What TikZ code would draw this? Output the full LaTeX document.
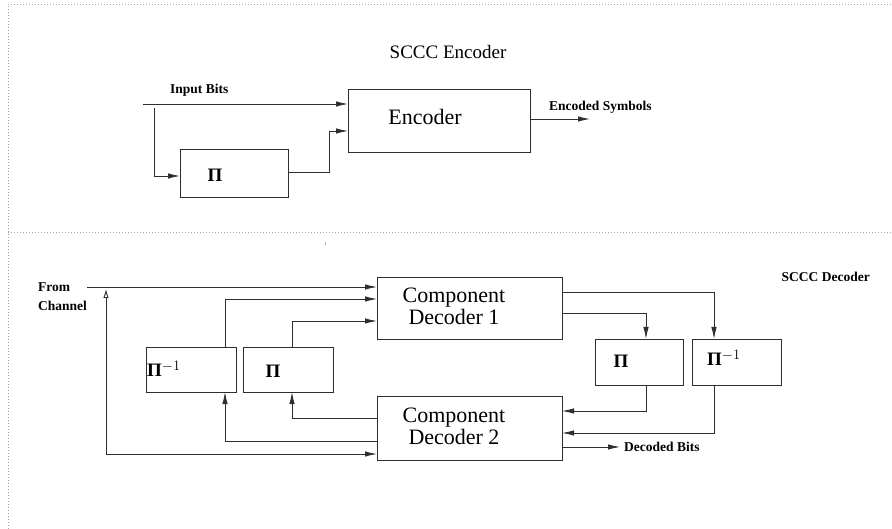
\documentclass[tikz,border=0pt]{standalone}
\usepackage{fontspec}
\setmainfont{Liberation Serif}
\usetikzlibrary{arrows.meta}
\definecolor{ln}{HTML}{2E2E2E}
\tikzset{
  box/.style={draw=ln, line width=0.9pt, rectangle, inner sep=0pt, outer sep=0pt, anchor=north west},
  arr/.style={draw=ln, line width=0.9pt, -{Latex[length=12pt,width=5.5pt]}},
  wire/.style={draw=ln, line width=0.9pt},
  lbl/.style={font=\fontsize{13.5}{15}\selectfont\bfseries, inner sep=0pt},
  big/.style={font=\fontsize{22}{25}\selectfont, inner sep=0pt, align=center},
  title/.style={font=\fontsize{19}{22}\selectfont, inner sep=0pt},
  pisym/.style={font=\fontsize{19}{22}\selectfont\bfseries, inner sep=0pt},
  frame/.style={draw=gray!70, line width=0.6pt, dash pattern=on 0.8pt off 2.2pt}
}
\begin{document}
\begin{tikzpicture}[x=1pt,y=-1pt]
\useasboundingbox (0,0) rectangle (892,529);
% frame
\draw[frame] (8,529) -- (8,4) -- (892,4);
\draw[frame] (8,232) -- (892,232);
\draw[gray!60, line width=0.5pt] (325,242) -- (325,245);

% ---------- Encoder ----------
\node[title] (enctitle) at (448,52) {SCCC Encoder};
\node[box, minimum width=182pt, minimum height=63pt] (enc) at (348,89) {};
\node[big] (enctext) at (425,117) {Encoder};
\node[box, minimum width=108pt, minimum height=48pt] (pe) at (180,149) {};
\node[pisym] (petext) at (215,175) {Π};

\coordinate (inb) at (143,104);
\coordinate (brs) at (154,108);
\node[lbl, anchor=west] (inlbl) at (170,90) {Input Bits};
\draw[arr] (inb) -- ([yshift=-15pt]enc.north west);
\draw[arr] (brs) |- ([yshift=-3pt]pe.west);
\draw[arr] ([yshift=1pt]pe.east) -- (329,172) |- ([yshift=-42pt]enc.north west);
\coordinate (encout) at (590,119);
\draw[arr] (enc.east |- encout) -- (encout);
\node[lbl, anchor=west] (enclbl) at (549,107) {Encoded Symbols};

% ---------- Decoder ----------
\node[lbl, anchor=east] (dectitle) at (870,277) {SCCC Decoder};
\node[lbl, anchor=west] (from) at (38,287) {From};
\node[lbl, anchor=west] (chan) at (38,306) {Channel};

\node[box, minimum width=185pt, minimum height=62pt] (cd1) at (377,277) {};
\node[big] (cd1text) at (454,306) {Component\\[-3pt]Decoder 1};
\node[box, minimum width=185pt, minimum height=64pt] (cd2) at (377,396) {};
\node[big] (cd2text) at (454,426) {Component\\[-3pt]Decoder 2};

\node[box, minimum width=90pt, minimum height=45pt] (pil) at (146,347) {};
\node[pisym, anchor=west] (piltext) at (147,369) {Π$^{-1}$};
\node[box, minimum width=90pt, minimum height=45pt] (pl) at (243,347) {};
\node[pisym] (pltext) at (273,371) {Π};
\node[box, minimum width=88pt, minimum height=46pt] (pr) at (595,339) {};
\node[pisym] (prtext) at (621,361) {Π};
\node[box, minimum width=89pt, minimum height=46pt] (pir) at (692,339) {};
\node[pisym, anchor=west] (pirtext) at (707,358) {Π$^{-1}$};

\coordinate (chin) at (87,287);
\coordinate (j) at (106,289);
\draw[arr] (chin) -- ([yshift=-10pt]cd1.north west);
\draw[wire, {Latex[open,length=9pt,width=5.5pt]}-{Latex[length=12pt,width=5.5pt]}] (j) -- (106,454) -- ([yshift=-58pt]cd2.north west);

\draw[arr] ([xshift=34pt]pil.north) |- ([yshift=-22pt]cd1.north west);
\draw[arr] ([xshift=4pt]pl.north) |- ([yshift=-44pt]cd1.north west);
\draw[arr] ([yshift=-22pt]cd2.north west) -| ([xshift=4pt]pl.south);
\draw[arr] ([yshift=-45pt]cd2.north west) -| ([xshift=34pt]pil.south);

\draw[arr] ([yshift=-15pt]cd1.north east) -| ([xshift=-22.5pt]pir.north);
\draw[arr] ([yshift=-36pt]cd1.north east) -| ([xshift=7pt]pr.north);
\draw[arr] ([xshift=7pt]pr.south) |- ([yshift=-15pt]cd2.north east);
\draw[arr] ([xshift=-22.5pt]pir.south) |- ([yshift=-37pt]cd2.north east);

\coordinate (decout) at (620,447);
\draw[arr] (cd2.east |- decout) -- (decout);
\node[lbl, anchor=west] (declbl) at (624,447) {Decoded Bits};
\end{tikzpicture}
\end{document}
